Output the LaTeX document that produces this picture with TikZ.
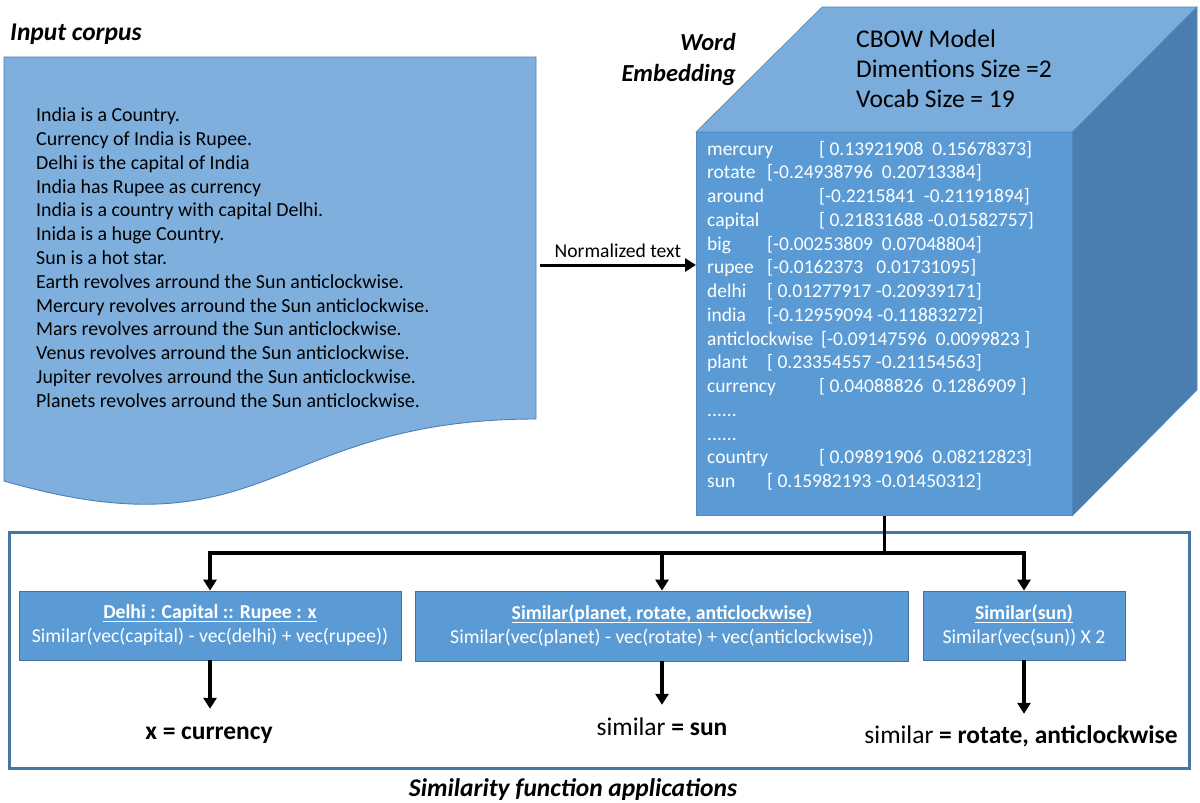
\documentclass[tikz,border=0pt]{standalone}
\usepackage{fontspec}
\setmainfont{Carlito}
\usetikzlibrary{arrows.meta}

\definecolor{docfill}{HTML}{7FB0DD}
\definecolor{docline}{HTML}{4A7EBB}
\definecolor{cubefront}{HTML}{5B9BD5}
\definecolor{cubetop}{HTML}{7AADDC}
\definecolor{cubeside}{HTML}{4A7EB0}
\definecolor{cubeedge}{HTML}{5289C2}
\definecolor{boxline}{HTML}{41719C}
\definecolor{frameline}{HTML}{4676A6}

\newcommand\fs[2]{\fontsize{#1}{#2}\selectfont}
% underline at a fixed depth below the baseline
\newcommand\ulin[1]{\leavevmode\setbox0\hbox{#1}%
  \rlap{\vrule height -2.2pt depth 3.6pt width \wd0}\box0}
% one row of the embedding table: index, word, x of the vector, vector
\newcommand\erow[4]{%
  \node[celltxt] (w#1) at (707,{155+23.75*(#1-1)}) {#2};
  \node[celltxt] (v#1) at (#3,{155+23.75*(#1-1)}) {#4};}

\begin{document}
\begin{tikzpicture}[x=1pt,y=-1pt,
  plaintxt/.style={inner sep=0pt, anchor=base west, font=\fs{19.9}{23.8}},
  celltxt/.style={inner sep=0pt, anchor=base west, font=\fs{19.5}{23.8}, text=white},
  title/.style={inner sep=0pt, font=\fs{25.5}{30}\bfseries\itshape},
  fbox/.style={draw=boxline, line width=0.8pt, fill=cubefront, text=white,
    align=center, inner sep=0pt, font=\fs{19.7}{24}},
  result/.style={inner sep=0pt, anchor=base, text height=18pt, text depth=6pt,
    font=\fs{25.5}{30}},
  wire/.style={line width=3.5pt},
  conn/.style={wire, -{Triangle[width=13pt,length=11pt]}},
]
\useasboundingbox (0,0) rectangle (1200,803);

% ---------- input corpus (document shape) ----------
\draw[fill=docfill, draw=docline, line width=0.9pt]
  (4,57) -- (536,57) -- (536,419)
  .. controls (270,419) and (270,558) .. (4,481) -- cycle;
\node[title, anchor=base west] (corpustitle) at (10,40) {Input corpus};
\foreach \t [count=\i] in {India is a Country.,
  Currency of India is Rupee.,
  Delhi is the capital of India,
  India has Rupee as currency,
  India is a country with capital Delhi.,
  Inida is a huge Country.,
  Sun is a hot star.,
  Earth revolves arround the Sun anticlockwise.,
  Mercury revolves arround the Sun anticlockwise.,
  Mars revolves arround the Sun anticlockwise.,
  Venus revolves arround the Sun anticlockwise.,
  Jupiter revolves arround the Sun anticlockwise.,
  Planets revolves arround the Sun anticlockwise.}
  \node[plaintxt] (c\i) at (36,{121.7+23.8*(\i-1)}) {\t};

% ---------- word embedding cube ----------
\node[draw=cubeedge, line width=0.6pt, fill=cubefront, anchor=north west,
  minimum width=376pt, minimum height=383pt, inner sep=0pt] (front) at (696,132) {};
\draw[draw=cubeedge, line width=0.6pt, fill=cubetop]
  (front.north west) -- (822,7) -- (1197,7) -- (front.north east) -- cycle;
\draw[draw=cubeedge, line width=0.6pt, fill=cubeside]
  (front.north east) -- (1197,7) -- (1197,390) -- (front.south east) -- cycle;

\node[inner sep=0pt, anchor=base west, font=\fs{25.5}{30}] (m1) at (856,47) {CBOW Model};
\node[inner sep=0pt, anchor=base west, font=\fs{25.5}{30}] (m2) at (856,77) {Dimentions Size =2};
\node[inner sep=0pt, anchor=base west, font=\fs{25.5}{30}] (m3) at (856,107) {Vocab Size = 19};

\node[title, font=\fs{24.5}{30}\bfseries\itshape, anchor=base east] (we1) at (736,50) {Word};
\node[title, font=\fs{24.5}{30}\bfseries\itshape, anchor=base east] (we2) at (736,81) {Embedding};

\erow{1}{mercury}{819}{[\ 0.13921908\ \ 0.15678373]}
\erow{2}{rotate}{767}{[-0.24938796\ \ 0.20713384]}
\erow{3}{around}{819}{[-0.2215841\ \ -0.21191894]}
\erow{4}{capital}{819}{[\ 0.21831688 -0.01582757]}
\erow{5}{big}{767}{[-0.00253809\ \ 0.07048804]}
\erow{6}{rupee}{767}{[-0.0162373\ \ \ 0.01731095]}
\erow{7}{delhi}{767}{[\ 0.01277917 -0.20939171]}
\erow{8}{india}{767}{[-0.12959094 -0.11883272]}
\erow{9}{anticlockwise}{821}{[-0.09147596\ \ 0.0099823\ ]}
\erow{10}{plant}{767}{[\ 0.23354557 -0.21154563]}
\erow{11}{currency}{819}{[\ 0.04088826\ \ 0.1286909\ ]}
\node[celltxt] (w12) at (707,{155+23.75*11}) {......};
\node[celltxt] (w13) at (707,{155+23.75*12}) {......};
\erow{14}{country}{819}{[\ 0.09891906\ \ 0.08212823]}
\erow{15}{sun}{767}{[\ 0.15982193 -0.01450312]}

% ---------- normalized text arrow ----------
\coordinate (docout) at (540,265);
\draw[conn, line width=3pt] (docout) -- (docout -| front.west)
  node[midway, above=6pt, inner sep=0pt, font=\fs{19.6}{22}] (norm) {Normalized text};

% ---------- similarity applications ----------
\node[draw=frameline, line width=3.3pt, anchor=north west, inner sep=0pt,
  minimum width=1180pt, minimum height=236pt] (apps) at (8,531) {};
\node[title, anchor=base] (appstitle) at (573,796) {Similarity function applications};

\node[fbox, minimum width=382pt, minimum height=69pt] (b1) at (210,625.5)
  {\textbf{\ulin{Delhi : Capital :: Rupee : x}}\\Similar(vec(capital) - vec(delhi) + vec(rupee))};
\node[fbox, minimum width=493pt, minimum height=70pt] (b2) at (662,626)
  {\textbf{\ulin{Similar(planet, rotate, anticlockwise)}}\\Similar(vec(planet) - vec(rotate) + vec(anticlockwise))};
\node[fbox, minimum width=202pt, minimum height=69pt] (b3) at (1024,625.5)
  {\textbf{\ulin{Similar(sun)}}\\Similar(vec(sun)) X 2};

\coordinate (bus) at (front.south |- 0,553);
\draw[wire] (front.south) -- (bus);
\draw[conn] (bus) -| (b1.north);
\draw[conn] (bus) -| (b2.north);
\draw[conn] (bus) -| (b3.north);

\node[result] (r1) at (209,739) {\textbf{x = currency}};
\node[result] (r2) at (662,735) {similar \textbf{= sun}};
\node[result] (r3) at (1021,743) {similar \textbf{= rotate, anticlockwise}};

\draw[conn, shorten >=12pt] (b1.south) -- (b1.south |- r1.north);
\draw[conn, shorten >=12pt] (b2.south) -- (b2.south |- r2.north);
\draw[conn, shorten >=11pt] (b3.south) -- (b3.south |- r3.north);
\end{tikzpicture}
\end{document}
